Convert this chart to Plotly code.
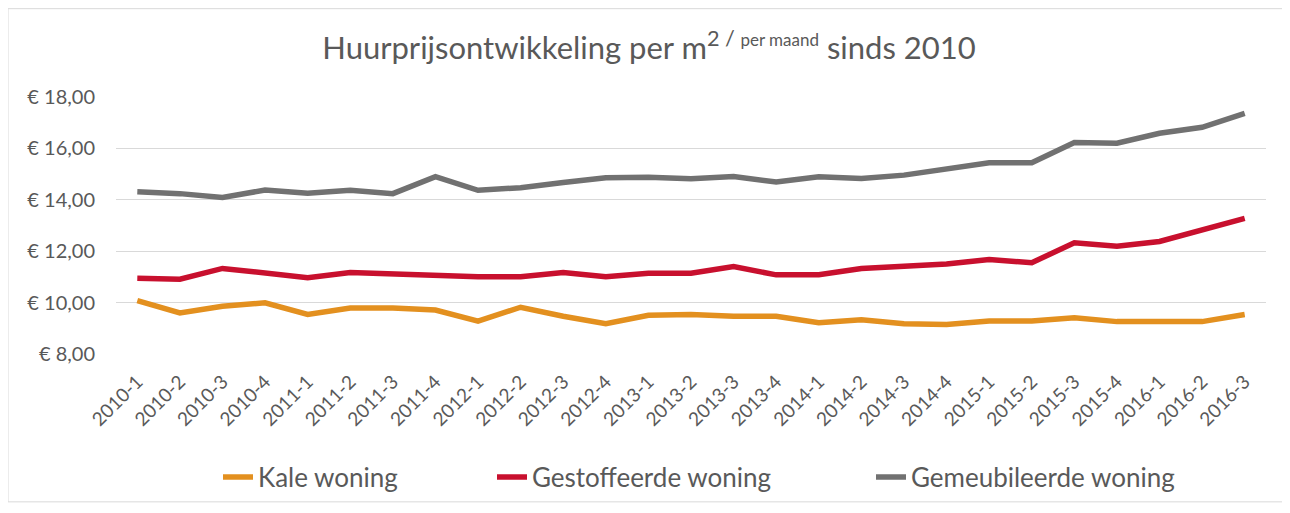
import plotly.graph_objects as go

categories = ["2010-1","2010-2","2010-3","2010-4","2011-1","2011-2","2011-3","2011-4",
              "2012-1","2012-2","2012-3","2012-4","2013-1","2013-2","2013-3","2013-4",
              "2014-1","2014-2","2014-3","2014-4","2015-1","2015-2","2015-3","2015-4",
              "2016-1","2016-2","2016-3"]

kale = [10.08, 9.60, 9.86, 9.99, 9.54, 9.79, 9.79, 9.71, 9.28, 9.82, 9.47, 9.18,
        9.51, 9.54, 9.47, 9.47, 9.22, 9.33, 9.18, 9.15, 9.28, 9.28, 9.41, 9.26,
        9.26, 9.26, 9.54]
gestoffeerd = [10.95, 10.91, 11.33, 11.17, 10.97, 11.17, 11.10, 11.08, 11.01, 11.01, 11.17, 11.01,
               11.14, 11.14, 11.40, 11.08, 11.08, 11.33, 11.42, 11.50, 11.68, 11.55, 12.33, 12.19,
               12.38, 12.81, 13.28]
gemeubileerd = [14.31, 14.24, 14.09, 14.38, 14.26, 14.37, 14.24, 14.90, 14.37, 14.47, 14.67, 14.86,
                14.88, 14.82, 14.91, 14.69, 14.90, 14.83, 14.96, 15.20, 15.44, 15.44, 16.23, 16.20,
                16.59, 16.82, 17.36]

series_names = ["Kale woning", "Gestoffeerde woning", "Gemeubileerde woning"]
series_colors = ["#E3901F", "#C8102E", "#717171"]
series_values = [kale, gestoffeerd, gemeubileerd]

FONT = "Lato"
TXT = "#595959"

# page body has an 8px offset; work in reference coordinates and shift
OFF = 8
W, H = 1290 - OFF, 513 - OFF
L, T = 116 - OFF, 97 - OFF
R = W - (1266 - OFF)
B = H - (356 - OFF)
pw = W - L - R
ph = H - T - B

def px_x(xr):
    return (xr - OFF - L) / pw

def px_y(yr):
    return (T + ph - (yr - OFF)) / ph

legend_ids = ["legend", "legend2", "legend3"]
legend_text_x = [263, 537, 916]

fig = go.Figure()
for name, vals, col, lid in zip(series_names, series_values, series_colors, legend_ids):
    fig.add_trace(go.Scatter(x=categories, y=vals, name=name, mode="lines",
                             line=dict(color=col, width=5.5), legend=lid))

legend_common = dict(orientation="h", yanchor="middle", xanchor="left",
                     font=dict(family=FONT, size=26, color=TXT),
                     bgcolor="rgba(0,0,0,0)", borderwidth=0)

layout_legends = {}
for lid, tx in zip(legend_ids, legend_text_x):
    layout_legends[lid] = dict(legend_common, x=px_x(tx - 45), y=px_y(480))

fig.update_layout(
    width=W, height=H,
    margin=dict(l=L, r=R, t=T, b=B),
    paper_bgcolor="white", plot_bgcolor="white",
    separators=",.",
    font=dict(family=FONT, color=TXT),
    title=dict(
        text="Huurprijsontwikkeling per m<sup>2 / <span style='font-size:17px'>per maand</span></sup> sinds 2010",
        x=0.5, xanchor="center", xref="container", y=1 - (48 - OFF) / H, yanchor="middle",
        font=dict(family=FONT, size=31, color=TXT)),
    xaxis=dict(
        type="category", tickangle=-45, showgrid=False, showline=False, ticks="",
        range=[-0.5, len(categories) - 0.5], ticklabelstandoff=12, automargin=False,
        tickfont=dict(family=FONT, size=19, color=TXT)),
    yaxis=dict(
        range=[8, 18], dtick=2, tickprefix="€ ", tickformat=".2f",
        showgrid=True, gridcolor="#D9D9D9", gridwidth=1, zeroline=False,
        showline=False, ticks="", ticklabelstandoff=20, automargin=False,
        tickfont=dict(family=FONT, size=20, color=TXT)),
    showlegend=True,
    **layout_legends,
)

fig.add_shape(type="rect", xref="paper", yref="paper",
              x0=px_x(8), x1=px_x(1283),
              y0=px_y(505), y1=px_y(8),
              line=dict(color="#D9D9D9", width=1), layer="below")

fig.write_html("out.html")
